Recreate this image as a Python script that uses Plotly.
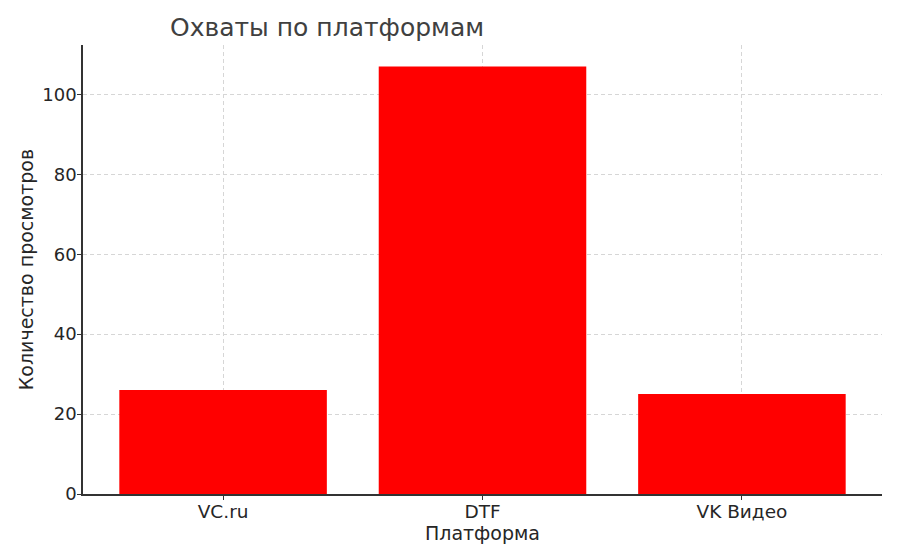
import plotly.graph_objects as go

platforms = ["VC.ru", "DTF", "VK Видео"]
views = [26, 107, 25]
y_ticks = [0, 20, 40, 60, 80, 100]

FONT = "DejaVu Sans"
TXT = "#262626"

# the page body adds an 8px offset; compensate so the plot sits where the reference has it
W, H = 892, 544

fig = go.Figure(go.Bar(
    x=list(range(len(platforms))), y=views,
    marker=dict(color="#ff0000", line=dict(width=0)),
    width=0.8,
))

fig.update_layout(
    width=W, height=H,
    margin=dict(l=75, r=18, t=37, b=58),
    paper_bgcolor="white", plot_bgcolor="white",
    font=dict(family=FONT, color=TXT, size=18),
    title=dict(text="Охваты по платформам", x=162/W, xanchor="left",
               y=1-19/H, yanchor="middle", font=dict(size=25, color="#404040")),
    showlegend=False,
    bargap=0.2,
)
fig.update_xaxes(
    range=[-0.54, 2.54], tickmode="array", tickvals=list(range(len(platforms))),
    ticktext=platforms, showline=True, linecolor="#333", linewidth=1.5,
    ticks="outside", ticklen=4, tickcolor="#333", automargin=False,
    ticklabelstandoff=-4,
    showgrid=True, gridcolor="#d6d6d6", griddash="4px,3px", gridwidth=1,
    layer="above traces", zeroline=False, tickfont=dict(size=18.5),
    title=dict(text="Платформа", font=dict(size=19), standoff=6),
)
fig.update_yaxes(
    range=[0, 112.35], tickmode="array", tickvals=y_ticks,
    showline=True, linecolor="#333", linewidth=1.5,
    ticks="outside", ticklen=4, tickcolor="#333", automargin=False,
    ticklabelstandoff=-3,
    showgrid=True, gridcolor="#d6d6d6", griddash="4px,3px", gridwidth=1,
    layer="above traces", zeroline=False, tickfont=dict(size=18),
    title=dict(text="Количество просмотров", font=dict(size=19), standoff=4),
)

fig.write_html("out.html")
